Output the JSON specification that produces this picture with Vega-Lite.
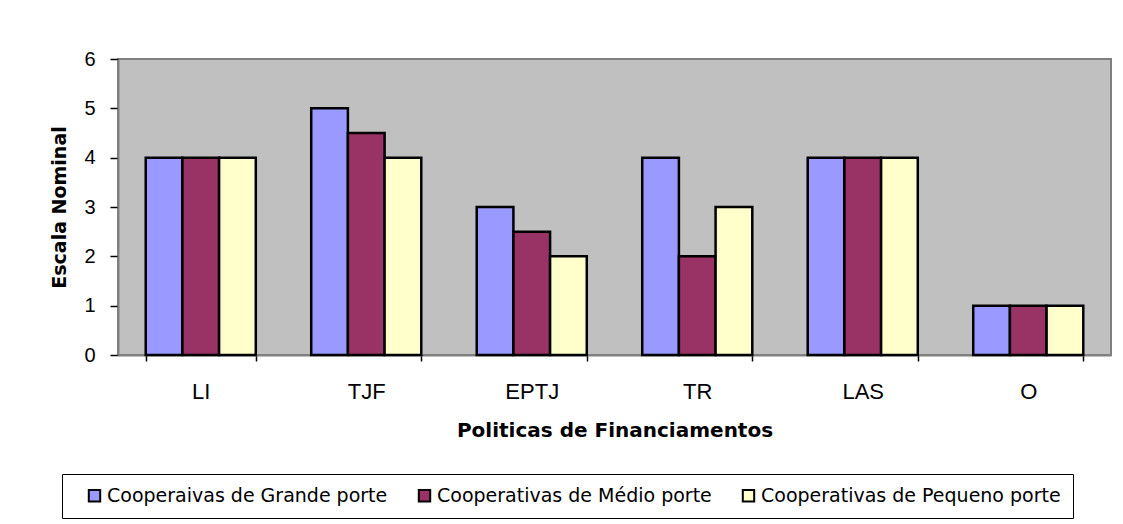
{
  "$schema": "https://vega.github.io/schema/vega-lite/v6.json",
  "width": 993,
  "height": 296,
  "autosize": {"type": "none"},
  "padding": {"left": 118, "top": 59, "right": 12, "bottom": 169},
  "background": "white",
  "config": {
    "font": "Liberation Sans",
    "view": {"fill": "#C0C0C0", "stroke": "#808080", "strokeWidth": 2}
  },
  "data": {
    "values": [
      {"cat": "LI", "serie": "Cooperaivas de Grande porte", "v": 4},
      {"cat": "LI", "serie": "Cooperativas de Médio porte", "v": 4},
      {"cat": "LI", "serie": "Cooperativas de Pequeno porte", "v": 4},
      {"cat": "TJF", "serie": "Cooperaivas de Grande porte", "v": 5},
      {"cat": "TJF", "serie": "Cooperativas de Médio porte", "v": 4.5},
      {"cat": "TJF", "serie": "Cooperativas de Pequeno porte", "v": 4},
      {"cat": "EPTJ", "serie": "Cooperaivas de Grande porte", "v": 3},
      {"cat": "EPTJ", "serie": "Cooperativas de Médio porte", "v": 2.5},
      {"cat": "EPTJ", "serie": "Cooperativas de Pequeno porte", "v": 2},
      {"cat": "TR", "serie": "Cooperaivas de Grande porte", "v": 4},
      {"cat": "TR", "serie": "Cooperativas de Médio porte", "v": 2},
      {"cat": "TR", "serie": "Cooperativas de Pequeno porte", "v": 3},
      {"cat": "LAS", "serie": "Cooperaivas de Grande porte", "v": 4},
      {"cat": "LAS", "serie": "Cooperativas de Médio porte", "v": 4},
      {"cat": "LAS", "serie": "Cooperativas de Pequeno porte", "v": 4},
      {"cat": "O", "serie": "Cooperaivas de Grande porte", "v": 1},
      {"cat": "O", "serie": "Cooperativas de Médio porte", "v": 1},
      {"cat": "O", "serie": "Cooperativas de Pequeno porte", "v": 1}
    ]
  },
  "mark": {"type": "bar", "stroke": "black", "strokeWidth": 2.5},
  "encoding": {
    "x": {
      "field": "cat",
      "type": "nominal",
      "sort": ["LI", "TJF", "EPTJ", "TR", "LAS", "O"],
      "scale": {"paddingInner": 0.335, "paddingOuter": 0.1675},
      "axis": {
        "title": "Politicas de Financiamentos",
        "titleFont": "DejaVu Sans",
        "titleFontSize": 20,
        "titleFontWeight": "bold",
        "titleColor": "black",
        "titlePadding": 18,
        "labelAngle": 0,
        "labelFontSize": 22,
        "labelColor": "black",
        "labelPadding": 20,
        "tickBand": "extent",
        "tickColor": "black",
        "tickSize": 6,
        "tickWidth": 1.5,
        "domainColor": "#808080",
        "domainWidth": 2
      }
    },
    "xOffset": {
      "field": "serie",
      "type": "nominal",
      "scale": {"paddingInner": 0, "paddingOuter": 0}
    },
    "y": {
      "field": "v",
      "type": "quantitative",
      "scale": {"domain": [0, 6]},
      "axis": {
        "title": "Escala Nominal",
        "titleFont": "DejaVu Sans",
        "titleFontSize": 19,
        "titleFontWeight": "bold",
        "titleColor": "black",
        "titlePadding": 14,
        "values": [0, 1, 2, 3, 4, 5, 6],
        "labelFontSize": 20,
        "labelColor": "black",
        "labelPadding": 15,
        "tickColor": "black",
        "tickSize": 8,
        "tickWidth": 1.5,
        "domainColor": "#808080",
        "domainWidth": 2,
        "grid": false
      }
    },
    "color": {
      "field": "serie",
      "type": "nominal",
      "scale": {
        "domain": ["Cooperaivas de Grande porte", "Cooperativas de Médio porte", "Cooperativas de Pequeno porte"],
        "range": ["#9999FF", "#993366", "#FFFFCC"]
      },
      "legend": {
        "title": null,
        "orient": "none",
        "direction": "horizontal",
        "legendX": -56,
        "legendY": 415,
        "symbolType": "square",
        "symbolSize": 130,
        "symbolStrokeColor": "black",
        "symbolStrokeWidth": 2,
        "symbolOffset": 11,
        "labelOffset": 3,
        "labelFontSize": 19,
        "labelColor": "black",
        "labelFont": "DejaVu Sans",
        "labelLimit": 500,
        "columnPadding": 16,
        "strokeColor": "black",
        "fillColor": "white",
        "padding": 12
      }
    }
  }
}
